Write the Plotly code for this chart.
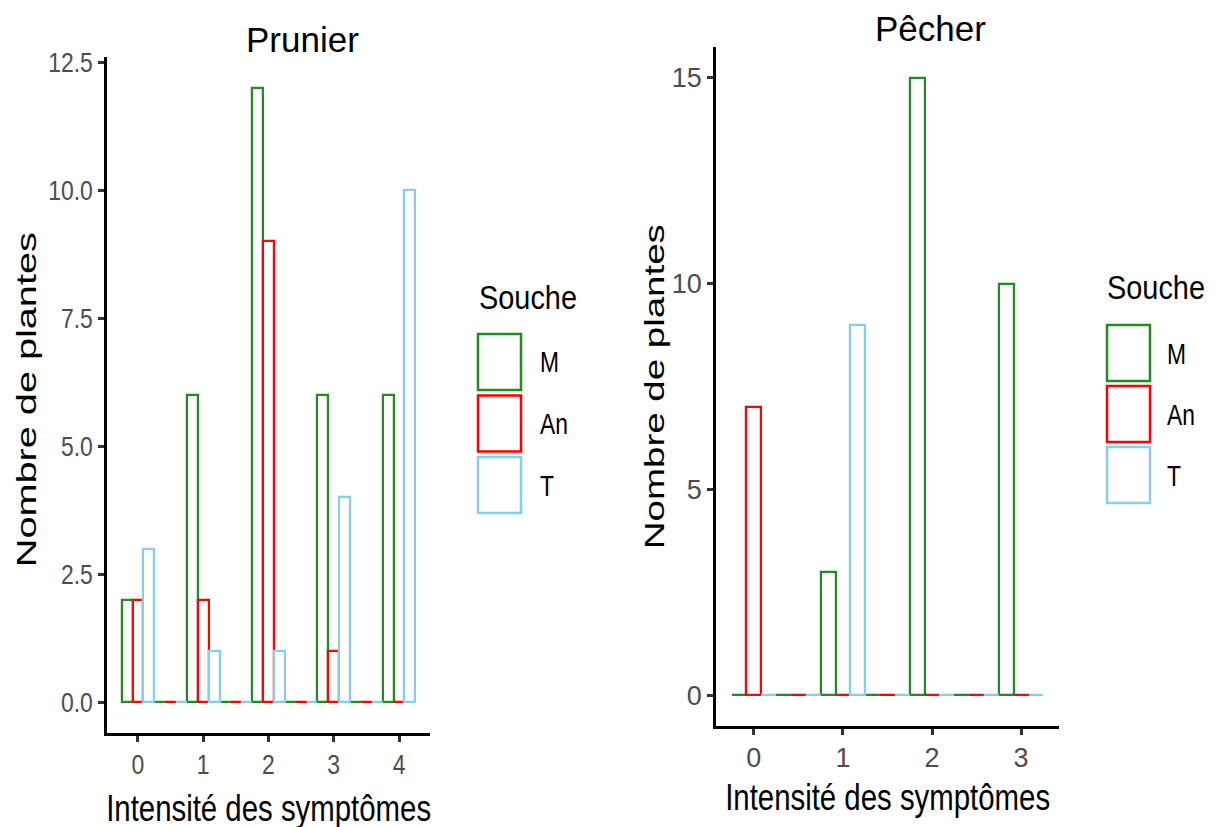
import plotly.graph_objects as go

# Symptom intensity positions (half steps hold the empty dodge groups)
prunier_x = [0, 0.5, 1, 1.5, 2, 2.5, 3, 3.5, 4]
prunier_M = [2, 0, 6, 0, 12, 0, 6, 0, 6]
prunier_An = [2, 0, 2, 0, 9, 0, 1, 0, 0]
prunier_T = [3, 0, 1, 0, 1, 0, 4, 0, 10]

pecher_x = [0, 0.5, 1, 1.5, 2, 2.5, 3]
pecher_M = [0, 0, 3, 0, 15, 0, 10]
pecher_An = [7, 0, 0, 0, 0, 0, 0]
pecher_T = [0, 0, 9, 0, 0, 0, 0]

souches = ["M", "An", "T"]
couleurs = {"M": "#228B22", "An": "#FF0000", "T": "#87CEEB"}

prunier_ticks = [0, 1, 2, 3, 4]
prunier_yticks = [0, 2.5, 5, 7.5, 10, 12.5]
pecher_ticks = [0, 1, 2, 3]
pecher_yticks = [0, 5, 10, 15]

W, H = 1219, 827
FONT = "Liberation Sans, Arial, sans-serif"


def px(x):
    return x / W


def py(y):
    return 1 - y / H


fig = go.Figure()

panels = [
    ("x", "y", prunier_x, {"M": prunier_M, "An": prunier_An, "T": prunier_T}),
    ("x2", "y2", pecher_x, {"M": pecher_M, "An": pecher_An, "T": pecher_T}),
]
for xa, ya, xs, series in panels:
    for s in souches:
        fig.add_trace(go.Bar(
            x=xs, y=series[s], name=s, xaxis=xa, yaxis=ya,
            marker=dict(color="rgba(0,0,0,0)",
                        line=dict(color=couleurs[s], width=2.2)),
            showlegend=False, hoverinfo="x+y+name",
        ))

axis_common = dict(
    showline=True, linecolor="black", linewidth=2.5,
    ticks="outside", ticklen=6, tickwidth=2.5, tickcolor="#333333",
    showgrid=False, zeroline=False, automargin=False,
    tickfont=dict(family=FONT, size=27, color="#4D4D4D"),
)

fig.update_layout(
    width=W, height=H,
    margin=dict(l=0, r=0, t=0, b=0, autoexpand=False),
    paper_bgcolor="white", plot_bgcolor="white",
    barmode="group", bargap=0, bargroupgap=0,
    xaxis=dict(domain=[px(107), px(430)], range=[-0.475, 4.475],
               tickvals=prunier_ticks, ticktext=[str(t) for t in prunier_ticks],
               anchor="y", **axis_common),
    yaxis=dict(domain=[py(733), py(57)], range=[-0.6, 12.6],
               tickvals=prunier_yticks,
               ticktext=[f"{t:.1f}" for t in prunier_yticks],
               anchor="x", **axis_common),
    xaxis2=dict(domain=[px(716), px(1059)], range=[-0.425, 3.425],
                tickvals=pecher_ticks, ticktext=[str(t) for t in pecher_ticks],
                anchor="y2", **axis_common),
    yaxis2=dict(domain=[py(726), py(47)], range=[-0.75, 15.75],
                tickvals=pecher_yticks, ticktext=[str(t) for t in pecher_yticks],
                anchor="x2", **axis_common),
)

annotations = [
    # panel titles
    dict(text="Prunier", x=px(302), y=py(39), font=dict(size=35)),
    dict(text="Pêcher", x=px(930), y=py(29), font=dict(size=35)),
    # x axis titles
    dict(text="Intensité des symptômes", x=px(268), y=py(808), font=dict(size=37)),
    dict(text="Intensité des symptômes", x=px(887), y=py(797), font=dict(size=37)),
    # y axis titles
    dict(text="Nombre de plantes", x=px(26), y=py(400), textangle=-90, font=dict(size=28)),
    dict(text="Nombre de plantes", x=px(654), y=py(386), textangle=-90, font=dict(size=28)),
]
for a in annotations:
    a.update(xref="paper", yref="paper", showarrow=False,
             xanchor="center", yanchor="middle")

# legends, one per panel
shapes = []
legendes = [
    dict(title_x=477, title_y=297, key_x=478, key_top=334, pitch=61.5, label_x=538),
    dict(title_x=1105, title_y=287, key_x=1107, key_top=325, pitch=61, label_x=1165),
]
KEY_W, KEY_H = 43, 56
for lg in legendes:
    annotations.append(dict(
        text="Souche", xref="paper", yref="paper", showarrow=False, align="left",
        x=px(lg["title_x"]), y=py(lg["title_y"]), xanchor="left", yanchor="middle",
        font=dict(size=34)))
    for i, s in enumerate(souches):
        top = lg["key_top"] + i * lg["pitch"]
        shapes.append(dict(
            type="rect", xref="paper", yref="paper",
            x0=px(lg["key_x"]), x1=px(lg["key_x"] + KEY_W),
            y0=py(top + KEY_H), y1=py(top),
            line=dict(color=couleurs[s], width=2.5), fillcolor="rgba(0,0,0,0)"))
        annotations.append(dict(
            text=s, xref="paper", yref="paper", showarrow=False, align="left",
            x=px(lg["label_x"]), y=py(top + KEY_H / 2), xanchor="left", yanchor="middle",
            font=dict(size=30)))

fig.update_layout(annotations=annotations, shapes=shapes,
                  font=dict(family=FONT, color="black"))

# Condensed lettering: fit each label to its set length along the baseline.
post = """
var gd = document.getElementById('{plot_id}');
function fit(t, len) {
  t.removeAttribute('textLength');
  t.setAttribute('lengthAdjust', 'spacingAndGlyphs');
  t.setAttribute('textLength', len);
}
function condense() {
  gd.querySelectorAll('.xtick text, .ytick text').forEach(function (t) {
    t.removeAttribute('textLength');
    fit(t, t.getComputedTextLength() * 0.85);
  });
  var nIdx = 0;
  gd.querySelectorAll('.annotation-text').forEach(function (t) {
    var s = t.textContent;
    t.removeAttribute('textLength');
    var L = t.getComputedTextLength();
    if (s.indexOf('Intensit') === 0) { fit(t, 325); }
    else if (s.indexOf('Nombre') === 0) { fit(t, nIdx === 0 ? 335 : 325); nIdx++; }
    else if (s === 'Souche') { fit(t, L * 0.85); }
    else if (s === 'M' || s === 'An' || s === 'T') { fit(t, L * 0.76); }
  });
}
condense();
gd.on('plotly_afterplot', condense);
"""

fig.write_html("out.html", post_script=post)
